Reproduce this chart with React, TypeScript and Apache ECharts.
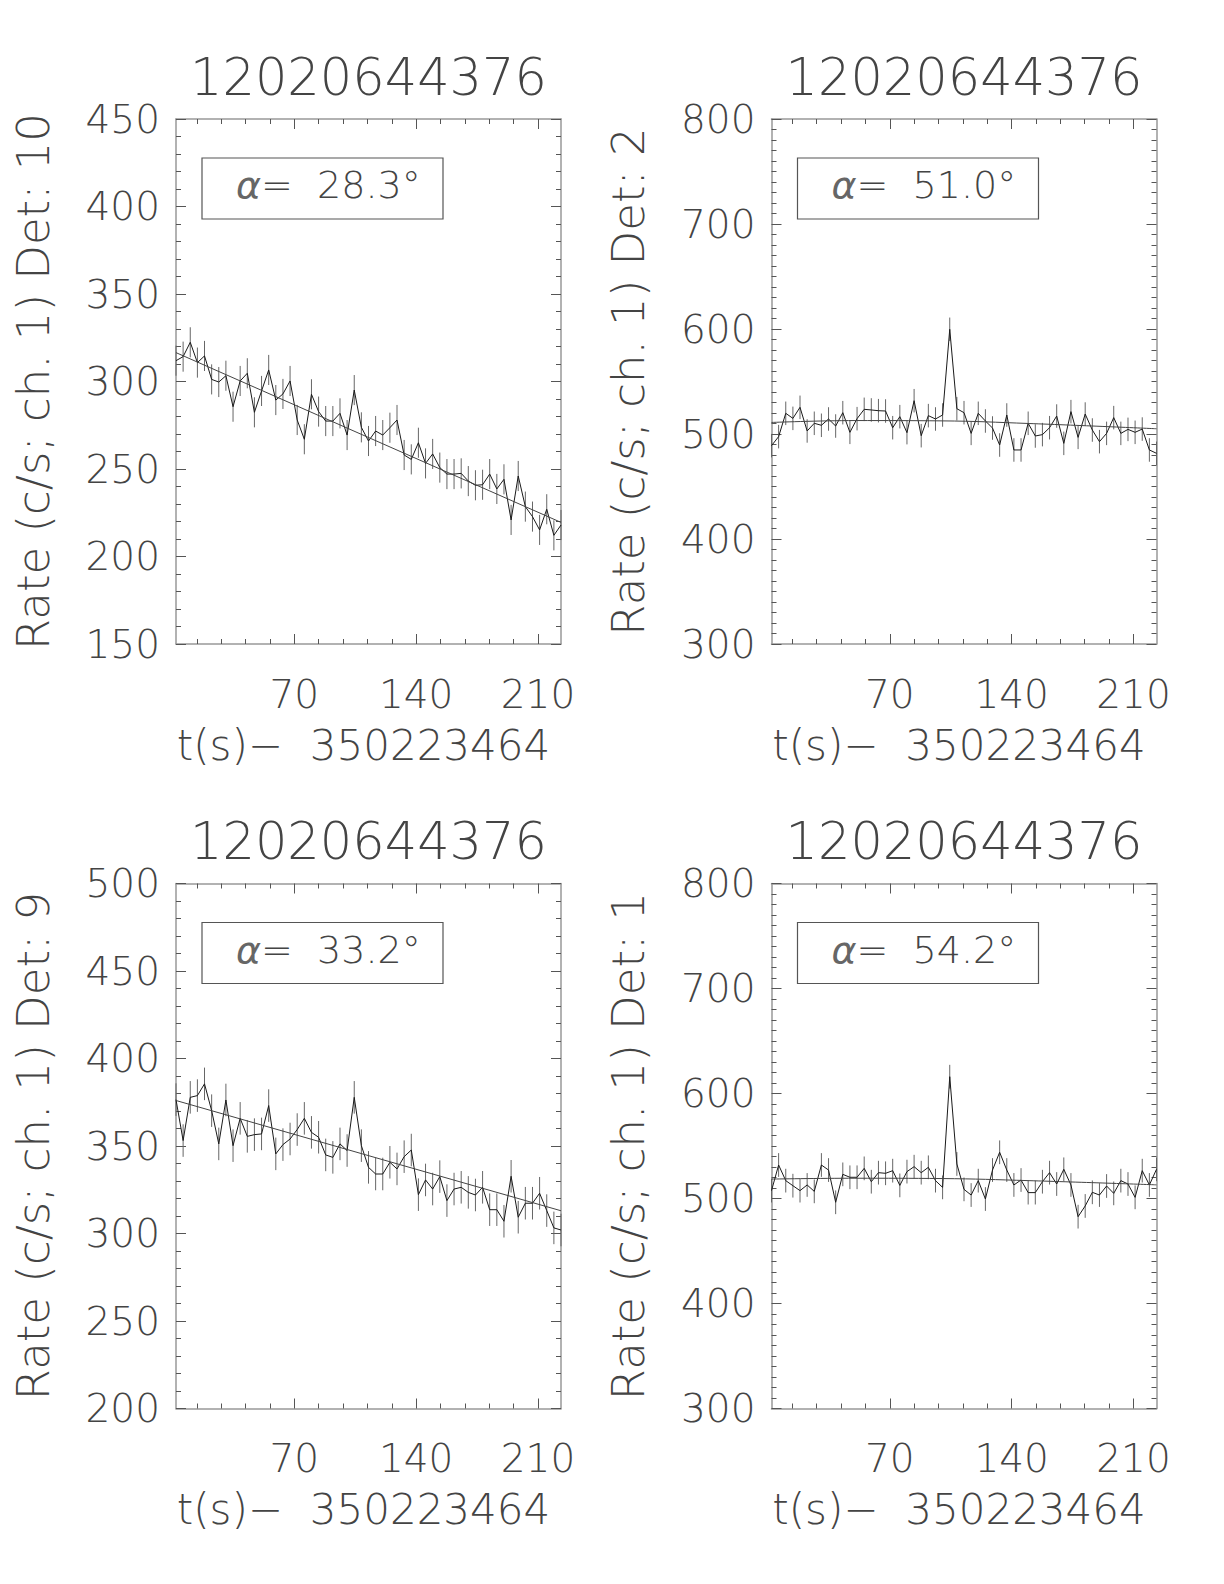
import React, { useEffect, useRef } from "react";
import * as echarts from "echarts";

// bin centres, t(s) - 350223464
const TIMES = [
  2.05, 6.14, 10.24, 14.34, 18.43, 22.53, 26.62, 30.72, 34.82, 38.91,
  43.01, 47.1, 51.2, 55.3, 59.39, 63.49, 67.58, 71.68, 75.78, 79.87,
  83.97, 88.06, 92.16, 96.26, 100.35, 104.45, 108.54, 112.64, 116.74, 120.83,
  124.93, 129.02, 133.12, 137.22, 141.31, 145.41, 149.5, 153.6, 157.7, 161.79,
  165.89, 169.98, 174.08, 178.18, 182.27, 186.37, 190.46, 194.56, 198.66, 202.75,
  206.85, 210.94, 215.04, 219.14, 223.23,
];

const DET10 = [
  311.9, 314.2, 322.4, 310.8, 314.6, 301.2, 299.7, 303.3, 285.6, 300.3,
  304.7, 282.4, 294.6, 306.6, 289.4, 292.9, 300.3, 278.0, 267.0, 292.7,
  282.8, 277.4, 277.4, 281.8, 269.4, 295.1, 273.8, 266.0, 271.7, 269.4,
  273.6, 278.0, 258.0, 255.5, 265.0, 253.2, 258.6, 250.8, 247.1, 247.1,
  247.5, 243.1, 240.7, 241.0, 247.1, 238.6, 244.1, 220.9, 246.0, 228.5,
  222.8, 215.2, 227.0, 212.1, 218.0,
];
const DET2 = [
  488.9, 497.5, 519.7, 514.9, 525.4, 502.9, 510.2, 508.3, 514.3, 507.6,
  520.3, 501.6, 514.6, 523.5, 522.9, 522.2, 521.9, 506.0, 516.5, 501.3,
  531.7, 498.4, 517.5, 514.3, 518.1, 599.7, 524.1, 520.3, 500.6, 519.7,
  512.4, 505.7, 489.5, 518.1, 484.8, 484.8, 510.2, 498.1, 499.4, 506.0,
  517.1, 491.1, 521.3, 496.8, 519.0, 503.8, 492.7, 500.6, 515.6, 500.6,
  504.4, 501.6, 504.7, 484.8, 481.6,
];
const DET9 = [
  376.5, 353.1, 377.8, 378.8, 385.5, 370.2, 351.2, 376.3, 350.2, 365.8,
  355.5, 356.5, 356.9, 373.1, 345.5, 350.8, 354.0, 359.4, 365.8, 357.8,
  355.0, 344.9, 343.5, 351.2, 347.4, 377.8, 350.2, 337.8, 334.0, 334.0,
  340.7, 336.9, 343.9, 347.7, 322.2, 330.6, 325.4, 332.5, 318.8, 325.4,
  326.4, 323.5, 322.0, 326.4, 313.6, 313.6, 307.0, 332.7, 309.3, 317.3,
  317.3, 323.0, 313.1, 303.2, 302.0,
];
const DET1 = [
  507.5, 531.9, 517.0, 512.2, 507.5, 512.9, 506.8, 531.9, 527.1, 496.4,
  523.0, 520.2, 520.2, 528.7, 516.0, 524.6, 524.0, 526.5, 512.5, 525.6,
  530.3, 524.6, 529.7, 517.0, 510.6, 616.0, 532.9, 508.7, 503.3, 517.0,
  499.5, 527.1, 544.0, 527.1, 512.9, 517.6, 505.6, 505.6, 516.0, 524.6,
  513.8, 527.8, 512.9, 482.7, 492.9, 505.9, 503.3, 511.9, 504.9, 517.0,
  513.8, 501.1, 526.5, 512.9, 527.8,
];

// background fits
const FIT_T_LIN = [2.05, 223.23];
const FIT10 = [316.5, 219.5];
const FIT9 = [376, 313];
const FIT_T_CURVE = [2.05, 50, 100, 150, 223.23];
const FIT2 = [511, 512.8, 512.5, 510, 505];
const FIT1 = [518.5, 519.3, 519, 517, 513];

const TITLE = "12020644376";
const X_NAME = "t(s)\u2212  350223464";
const X_MAJOR = [70, 140, 210];
const X_MINOR = [14, 28, 42, 56, 84, 98, 112, 126, 154, 168, 182, 196];
const X_MIN = 2.05;
const X_MAX = 223.23;

const PANELS = [
  { det: "10", values: DET10, fitT: FIT_T_LIN, fitV: FIT10, err: 8.6, yMin: 150, yMax: 450, yStep: 50, ySplit: 5, alpha: "28.3" },
  { det: "2", values: DET2, fitT: FIT_T_CURVE, fitV: FIT2, err: 11.2, yMin: 300, yMax: 800, yStep: 100, ySplit: 10, alpha: "51.0" },
  { det: "9", values: DET9, fitT: FIT_T_LIN, fitV: FIT9, err: 9.3, yMin: 200, yMax: 500, yStep: 50, ySplit: 5, alpha: "33.2" },
  { det: "1", values: DET1, fitT: FIT_T_CURVE, fitV: FIT1, err: 11.3, yMin: 300, yMax: 800, yStep: 100, ySplit: 10, alpha: "54.2" },
];

const GRID_POS = [
  { left: 176, top: 119 },
  { left: 771.5, top: 119 },
  { left: 176, top: 883.5 },
  { left: 771.5, top: 883.5 },
];
const GW = 385;
const GH = 525;

const FONT = "'DejaVu Sans', 'Liberation Sans', sans-serif";
const TXT = "#444";
const AXIS_COLOR = "#999";
const TICK_COLOR = "#555";

export default function App() {
  const ref = useRef<HTMLDivElement>(null);
  useEffect(() => {
    if (!ref.current) return;
    const chart = echarts.init(ref.current, null, { renderer: "svg" });
    const grids: any[] = [];
    const xAxes: any[] = [];
    const yAxes: any[] = [];
    const series: any[] = [];
    const graphics: any[] = [];

    PANELS.forEach((p, g) => {
      const gp = GRID_POS[g];
      grids.push({ left: gp.left, top: gp.top, width: GW, height: GH, containLabel: false, outerBoundsMode: "none" });
      const baseX = (position: string, ticks: number[], len: number, showLine: boolean, labels: boolean, withName: boolean) => ({
        type: "value",
        gridIndex: g,
        position,
        min: X_MIN,
        max: X_MAX,
        axisLine: { show: showLine, onZero: false, lineStyle: { color: AXIS_COLOR, width: 1.5 } },
        axisTick: { show: true, inside: true, length: len, customValues: ticks, lineStyle: { color: TICK_COLOR, width: 1 } },
        axisLabel: labels
          ? { show: true, customValues: X_MAJOR, fontSize: 39, fontFamily: FONT, fontWeight: 200, color: TXT, margin: 50, verticalAlign: "middle" }
          : { show: false },
        splitLine: { show: false },
        name: withName ? X_NAME : "",
        nameLocation: "middle",
        nameGap: 101,
        nameTextStyle: { fontSize: 42, fontFamily: FONT, fontWeight: 200, color: TXT, verticalAlign: "middle", padding: [0, 10, 0, 0] },
      });
      const xi = xAxes.length;
      xAxes.push(baseX("bottom", X_MAJOR, 10, true, true, true));
      xAxes.push(baseX("bottom", X_MINOR, 5, false, false, false));
      xAxes.push(baseX("top", X_MAJOR, 10, true, false, false));
      xAxes.push(baseX("top", X_MINOR, 5, false, false, false));

      const baseY = (position: string, labels: boolean) => ({
        type: "value",
        gridIndex: g,
        position,
        min: p.yMin,
        max: p.yMax,
        interval: p.yStep,
        axisLine: { show: true, onZero: false, lineStyle: { color: AXIS_COLOR, width: 1.5 } },
        axisTick: { show: true, inside: true, length: 10, lineStyle: { color: TICK_COLOR, width: 1 } },
        minorTick: { show: true, splitNumber: p.ySplit, length: 5, lineStyle: { color: TICK_COLOR, width: 1 } },
        axisLabel: labels
          ? { show: true, fontSize: 39, fontFamily: FONT, fontWeight: 200, color: TXT, margin: 16 }
          : { show: false },
        splitLine: { show: false },
        name: labels ? `Rate (c/s; ch. 1) Det: ${p.det}` : "",
        nameLocation: "middle",
        nameGap: 143,
        nameRotate: 90,
        nameTextStyle: { fontSize: 45, fontFamily: FONT, fontWeight: 200, color: TXT, verticalAlign: "middle" },
      });
      const yi = yAxes.length;
      yAxes.push(baseY("left", true));
      yAxes.push(baseY("right", false));

      const pts = TIMES.map((t, i) => [t, p.values[i]]);
      series.push({
        type: "custom",
        xAxisIndex: xi,
        yAxisIndex: yi,
        data: TIMES.map((t, i) => [t, p.values[i], p.err]),
        encode: { x: 0, y: 1 },
        silent: true,
        renderItem: (_params: any, api: any) => {
          const t = api.value(0);
          const v = api.value(1);
          const e = api.value(2);
          const a = api.coord([t, v - e]);
          const b = api.coord([t, v + e]);
          return {
            type: "line",
            shape: { x1: a[0], y1: a[1], x2: b[0], y2: b[1] },
            style: { stroke: "#666", lineWidth: 1 },
          };
        },
      });
      series.push({
        type: "line",
        xAxisIndex: xi,
        yAxisIndex: yi,
        data: pts,
        symbol: "none",
        lineStyle: { color: "#1a1a1a", width: 1 },
        silent: true,
      });
      series.push({
        type: "line",
        xAxisIndex: xi,
        yAxisIndex: yi,
        data: p.fitT.map((t, i) => [t, p.fitV[i]]),
        symbol: "none",
        smooth: p.fitT.length > 2 ? 0.4 : false,
        lineStyle: { color: "#444", width: 1 },
        silent: true,
      });

      graphics.push({
        type: "text",
        x: gp.left + GW / 2,
        y: gp.top - 42,
        style: {
          text: TITLE,
          fontSize: 51,
          fontFamily: FONT,
          fontWeight: 200,
          fill: TXT,
          textAlign: "center",
          textVerticalAlign: "middle",
        },
      });
      graphics.push({
        type: "rect",
        shape: { x: gp.left + 26, y: gp.top + 39, width: 241, height: 61 },
        style: { fill: "none", stroke: "#555", lineWidth: 1.2 },
      });
      graphics.push({
        type: "text",
        x: gp.left + 60,
        y: gp.top + 66,
        style: {
          text: `{a|\u03b1}{b|=  ${p.alpha}\u00b0}`,
          textVerticalAlign: "middle",
          rich: {
            a: { fontSize: 38, fontFamily: FONT, fontWeight: "normal", fontStyle: "italic", fill: "#666", color: "#666" },
            b: { fontSize: 38, fontFamily: FONT, fontWeight: 200, fill: TXT, color: TXT },
          },
        },
      });
    });

    chart.setOption({
      animation: false,
      backgroundColor: "#fff",
      grid: grids,
      xAxis: xAxes,
      yAxis: yAxes,
      series,
      graphic: graphics,
    });
    return () => chart.dispose();
  }, []);
  return (
    <div
      ref={ref}
      style={{ position: "fixed", left: 0, top: 0, width: 1224, height: 1584, background: "#fff" }}
    />
  );
}
